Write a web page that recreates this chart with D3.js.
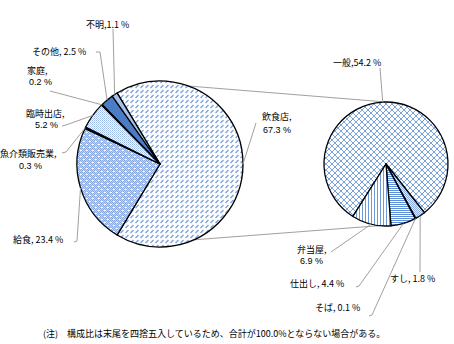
<!DOCTYPE html>
<html><head><meta charset="utf-8">
<script src="https://cdn.jsdelivr.net/npm/d3@7"></script>
<style>
body{margin:0;background:#fff}
text{font-family:"Noto Sans CJK JP","Noto Sans",sans-serif;font-size:9px;fill:#000}
text.num{font-family:"Liberation Sans","DejaVu Sans",sans-serif}
</style>
</head><body><svg id="c" width="454" height="344"></svg>
<script>
// ---- data ----
const mainCategories = ["飲食店","給食","魚介類販売業","臨時出店","家庭","その他","不明"];
const mainValues = [67.3,23.4,0.3,5.2,0.2,2.5,1.1];
const subCategories = ["一般","すし","そば","仕出し","弁当屋"];
const subValues = [54.2,1.8,0.1,4.4,6.9];
const footnote = "(注)　構成比は末尾を四捨五入しているため、合計が100.0%とならない場合がある。";

// ---- layout ----
const svg = d3.select("#c");
const deg = Math.PI/180;
const L = {cx:160, cy:164, r:83};
const R = {cx:386, cy:164, r:62};
const mainStart = (90 - mainValues[0]/d3.sum(mainValues)*360/2);
const subStart = 212.25;

const defs = svg.append("defs");
function pattern(id,w,h){return defs.append("pattern").attr("id",id).attr("patternUnits","userSpaceOnUse").attr("width",w).attr("height",h);}
// 飲食店: short diagonal dashes
{const p=pattern("pInshoku",5,5);p.append("rect").attr("width",5).attr("height",5).attr("fill","#fff");
 p.append("path").attr("d","M0.5,4 L3.5,1").attr("stroke","#78a0dc").attr("stroke-width",1.3);}
// 給食: blue fine checker with white dots
{const p=pattern("pKyushoku",6,6);
 for(let x=0;x<6;x++)for(let y=0;y<6;y++)p.append("rect").attr("x",x).attr("y",y).attr("width",1).attr("height",1).attr("fill",(x+y)%2?"#c2d3f1":"#89aae2");
 p.append("rect").attr("x",1).attr("y",1).attr("width",2).attr("height",1).attr("fill","#fff");
 p.append("rect").attr("x",4).attr("y",4).attr("width",2).attr("height",1).attr("fill","#fff");}
// 臨時出店: light checker
{const p=pattern("pRinji",2,2);p.append("rect").attr("width",2).attr("height",2).attr("fill","#fff");
 p.append("rect").attr("width",1).attr("height",1).attr("fill","#9ab8e6");
 p.append("rect").attr("x",1).attr("y",1).attr("width",1).attr("height",1).attr("fill","#b8cdef");}
// 一般: diagonal crosshatch
{const p=pattern("pIppan",6,6);p.append("rect").attr("width",6).attr("height",6).attr("fill","#fff");
 p.append("path").attr("d","M0,0 L6,6 M0,6 L6,0").attr("stroke","#7aa2dc").attr("stroke-width",1);}
// 弁当屋: vertical lines
{const p=pattern("pBento",3,3);p.append("rect").attr("width",3).attr("height",3).attr("fill","#fff");
 p.append("rect").attr("width",1).attr("height",3).attr("fill","#6f9ad8");}
// 仕出し: horizontal lines
{const p=pattern("pShidashi",2,2);p.append("rect").attr("width",2).attr("height",2).attr("fill","#fff");
 p.append("rect").attr("width",2).attr("height",1).attr("fill","#5f8fd6");}
// すし: light checker
{const p=pattern("pSushi",2,2);p.append("rect").attr("width",2).attr("height",2).attr("fill","#e4ecf9");
 p.append("rect").attr("width",1).attr("height",1).attr("fill","#8eaee4");
 p.append("rect").attr("x",1).attr("y",1).attr("width",1).attr("height",1).attr("fill","#8eaee4");}

const mainFills = ["url(#pInshoku)","url(#pKyushoku)","#000","url(#pRinji)","#000","#4a7dc6","#a6c0e8"];
const subFills = ["url(#pIppan)","url(#pSushi)","#000","url(#pShidashi)","url(#pBento)"];

function pt(P,a){return [P.cx+P.r*Math.sin(a*deg), P.cy-P.r*Math.cos(a*deg)];}

// connector lines between pies
const conn = svg.append("g").attr("stroke","#a0a0a0").attr("stroke-width",1).attr("fill","none");
conn.append("line").attr("x1",pt(L,20)[0]).attr("y1",pt(L,20)[1]).attr("x2",pt(R,0)[0]).attr("y2",pt(R,0)[1]);
conn.append("line").attr("x1",pt(L,156)[0]).attr("y1",pt(L,156)[1]).attr("x2",pt(R,186)[0]).attr("y2",pt(R,186)[1]);

function drawPie(P, cats, vals, fills, start){
  const pie = d3.pie().sort(null).value(d=>d).startAngle(start*deg).endAngle((start+360)*deg);
  const arcs = pie(vals);
  const arc = d3.arc().innerRadius(0).outerRadius(P.r);
  const g = svg.append("g").attr("transform",`translate(${P.cx},${P.cy})`);
  g.selectAll("path").data(arcs).join("path").attr("d",arc)
    .attr("fill",(d,i)=>fills[i]).attr("stroke","#000").attr("stroke-width",1.3).attr("stroke-linejoin","round");
  return arcs;
}
const mainArcs = drawPie(L, mainCategories, mainValues, mainFills, mainStart);
const subArcs = drawPie(R, subCategories, subValues, subFills, subStart);

// label layout
const mainLabels = [
  {x:262,y:120,x2:263,y2:133,lead:[[256,123]]},
  {x:13,y:243,sep:" ",lead:[[74,242],[77,241]]},
  {x:0,y:157,x2:19,y2:169,lead:[[62,153],[66,152]]},
  {x:26,y:117,x2:35,y2:128,lead:[[62,126],[66,125]]},
  {x:27,y:74,x2:29,y2:85,lead:[[50,91]]},
  {x:32,y:55,sep:" ",lead:[[96,52],[100,52]]},
  {x:86,y:28,sep:"",lead:[[113,29]]}
];
const subLabels = [
  {x:333,y:66,sep:"",lead:[[380,68]]},
  {x:390,y:282,sep:" ",lead:[[420,272]]},
  {x:315,y:311,sep:" ",lead:[[369,316],[372,315]]},
  {x:290,y:287,sep:" ",lead:[[356,287],[359,286]]},
  {x:297,y:253,x2:300,y2:264,lead:[[331,252]]}
];

function drawLabels(P, cats, vals, arcs, lay){
  const edge = d3.arc().innerRadius(P.r).outerRadius(P.r);
  const lg = svg.append("g").attr("stroke","#a0a0a0").attr("stroke-width",1).attr("fill","none");
  const tg = svg.append("g");
  arcs.forEach((d,i)=>{
    const c = edge.centroid(d);
    const pts = lay[i].lead.concat([[P.cx+c[0],P.cy+c[1]]]);
    lg.append("polyline").attr("points",pts.map(p=>p.join(",")).join(" "));
    const v = vals[i].toFixed(1)+" %";
    if(lay[i].x2!==undefined){
      tg.append("text").attr("x",lay[i].x).attr("y",lay[i].y).text(cats[i]+",");
      tg.append("text").attr("class","num").attr("x",lay[i].x2).attr("y",lay[i].y2).text(v);
    } else {
      tg.append("text").attr("x",lay[i].x).attr("y",lay[i].y).text(cats[i]+","+lay[i].sep+v);
    }
  });
}
drawLabels(L, mainCategories, mainValues, mainArcs, mainLabels);
drawLabels(R, subCategories, subValues, subArcs, subLabels);

svg.append("text").attr("x",43).attr("y",337).text(footnote);
</script>
</body></html>
